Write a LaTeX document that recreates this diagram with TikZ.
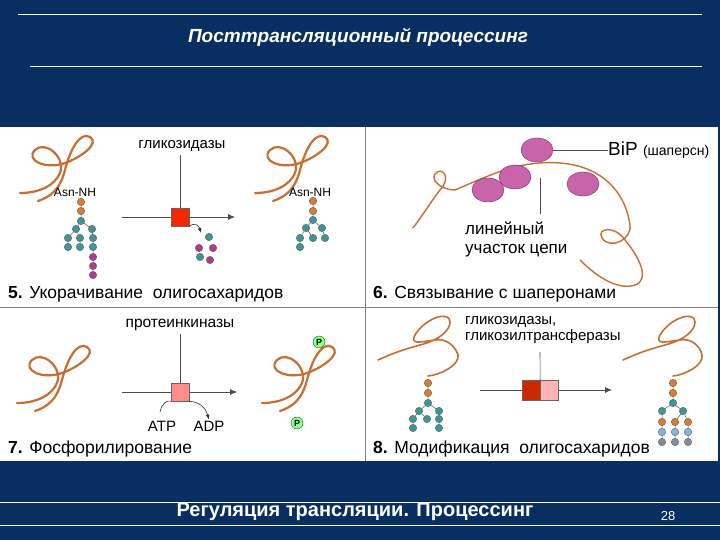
\documentclass[tikz,border=0pt]{standalone}
\usepackage{fontspec}
\setmainfont{Liberation Sans}
\usetikzlibrary{arrows.meta,shapes.geometric}
\definecolor{navy}{RGB}{8,46,98}
\definecolor{rope}{RGB}{200,110,50}
\definecolor{teal1}{RGB}{60,150,150}
\definecolor{mag}{RGB}{170,60,140}
\definecolor{org}{RGB}{215,125,50}
\definecolor{lblue}{RGB}{130,180,220}
\definecolor{gry}{RGB}{130,140,150}
\definecolor{bip}{RGB}{200,100,170}
\tikzset{
 chain/.style={draw=rope,line width=2.2pt,line cap=round},
 link/.style={draw=gray!70!black,line width=0.5pt},
 sug/.style={circle,draw=black!60,line width=0.4pt,inner sep=0pt,minimum size=7.5pt},
 lbl/.style={font=\fontsize{12}{13}\selectfont,inner sep=1pt},
 ttl/.style={font=\fontsize{17.5}{19}\selectfont,anchor=west,inner sep=0pt},
 thin/.style={draw=black!70,line width=0.6pt},
 arr/.style={draw=black!70,line width=0.8pt,-{Latex[length=7pt,width=6pt]}},
 bipe/.style={ellipse,draw=mag!70!black,fill=bip,minimum width=32pt,minimum height=24pt,inner sep=0pt},
 phos/.style={circle,draw=green!40!black,fill=green!45!white,inner sep=0pt,minimum size=12pt,font=\fontsize{9}{9}\selectfont\bfseries},
 coil/.pic={\draw[chain] (0,58) .. controls (20,58) and (35,50) .. (40,38) .. controls (46,22) and (25,5) .. (15,15) .. controls (5,25) and (25,35) .. (45,28) .. controls (62,22) and (80,8) .. (70,2) .. controls (60,-4) and (50,15) .. (45,35) .. controls (40,55) and (30,62) .. (18,66);}
}
\begin{document}
\begin{tikzpicture}[x=1pt,y=-1pt]
\fill[navy] (0,0) rectangle (720,540);
\useasboundingbox (0,0) rectangle (720,540);
\draw[white,line width=0.8pt] (18,14) -- (702,14);
\draw[white,line width=0.8pt] (30,66) -- (702,66);
\node[text=white,font=\bfseries\itshape\fontsize{19}{21}\selectfont] (title) at (358,37) {Посттрансляционный процессинг};
\fill[white] (0,127) rectangle (718,461);
\draw[gray,line width=1pt] (0,307) -- (718,307);
\draw[gray,line width=1pt] (365,127) -- (365,461);
\draw[white,line width=0.8pt] (0,502) -- (720,502);
\draw[white,line width=0.8pt] (0,525) -- (720,525);
\node[text=white,font=\bfseries\fontsize{20}{22}\selectfont] (foot) at (355,512) {Регуляция трансляции. Процессинг};
\node[text=white,font=\fontsize{13}{14}\selectfont] (pg) at (668,516) {28};

% ---------- panel 5
\pic at (20,135) {coil};
\pic at (255,135) {coil};
\node[lbl] (asn1) at (75,192) {Asn-NH};
\node[lbl] (asn2) at (310,192) {Asn-NH};
\foreach \n/\x/\y/\c in {a1/81/202/org,a2/81/211/org,a3/81/221/teal1,a4/76/229/teal1,a5/92/229/teal1,a6/68/238/teal1,a7/80/238/teal1,a8/93/238/teal1,a9/68/247/teal1,a10/80/247/teal1,a11/93/247/teal1,a12/93/257/mag,a13/93/266/mag,a14/93/275/mag}
 {\node[sug,fill=\c] (\n) at (\x,\y) {};}
\draw[link] (asn1) -- (a1) -- (a2) -- (a3) -- (a4) -- (a6) -- (a9);
\draw[link] (a4) -- (a7) -- (a10);
\draw[link] (a3) -- (a5) -- (a8) -- (a11) -- (a12) -- (a13) -- (a14);
\foreach \n/\x/\y/\c in {b1/313/201/org,b2/313/211/org,b3/313/220/teal1,b4/306/228/teal1,b5/322/228/teal1,b6/300/238/teal1,b7/313/238/teal1,b8/325/238/teal1,b9/300/247/teal1}
 {\node[sug,fill=\c] (\n) at (\x,\y) {};}
\draw[link] (asn2) -- (b1) -- (b2) -- (b3) -- (b4) -- (b6) -- (b9);
\draw[link] (b4) -- (b7); \draw[link] (b3) -- (b5) -- (b8);
\foreach \n/\x/\y/\c in {c1/209/237/teal1,c2/199/248/mag,c3/213/248/mag,c4/200/257/teal1,c5/210/260/mag}
 {\node[sug,fill=\c] (\n) at (\x,\y) {};}
\coordinate (s5) at (122,217); \coordinate (e5) at (235,217);
\draw[arr] (s5) -- (e5);
\node[lbl,font=\fontsize{15}{16}\selectfont] (g5) at (182,146) {гликозидазы};
\node[draw=black!60,fill=red!65!orange!95!black,minimum size=18pt,inner sep=0pt] (box5) at (180,217) {};
\draw[thin] (180,155) -- (box5.north);
\coordinate (f5) at (201,233);
\draw[draw=black!80,line width=0.6pt,-{Latex[length=5pt]}] (box5.south east) .. controls (195,222) and (199,226) .. (f5);
\node[ttl] (t5) at (8,294) {\textbf{5.} Укорачивание\ \ олигосахаридов};

% ---------- panel 6
\draw[chain,line width=1.4pt] (413,228) .. controls (425,212) and (432,200) .. (440,190) .. controls (450,180) and (445,168) .. (437,172) .. controls (428,178) and (440,190) .. (455,190) .. controls (490,175) and (520,160) .. (560,163) .. controls (600,166) and (625,190) .. (630,225) .. controls (632,240) and (610,250) .. (602,238) .. controls (596,228) and (615,225) .. (625,240) .. controls (640,258) and (650,280) .. (635,285) .. controls (620,290) and (600,280) .. (580,260);
\node[bipe] (e1) at (537,150) {};
\node[bipe] (e2) at (488,190) {};
\node[bipe] (e3) at (515,177) {};
\node[bipe] (e4) at (583,184) {};
\node[anchor=west,inner sep=0pt] (bipl) at (608,150) {\fontsize{19}{20}\selectfont BiP \fontsize{14}{15}\selectfont(шаперсн)};
\draw[thin] (e1.east) -- (bipl.west);
\coordinate (lt) at (540,178);
\node[anchor=north west,align=left,inner sep=0pt,font=\fontsize{17}{19}\selectfont] (lin) at (465,222) {линейный\\участок цепи};
\draw[thin] (lt) -- (540,214);
\node[ttl] (t6) at (373,294) {\textbf{6.} Связывание с шаперонами};

% ---------- panel 7
\pic at (17,345) {coil};
\pic at (262,345) {coil};
\node[phos] (p1) at (319,342) {P};
\node[phos] (p2) at (297,423) {P};
\node[lbl,font=\fontsize{15.5}{16}\selectfont] (g7) at (180,325) {протеинкиназы};
\coordinate (s7) at (122,392); \coordinate (e7) at (237,392);
\draw[arr] (s7) -- (e7);
\node[draw=black!60,fill=red!45!white,minimum size=18pt,inner sep=0pt] (box7) at (180,392) {};
\draw[thin] (180,334) -- (box7.north);
\node[lbl,font=\fontsize{15}{16}\selectfont] (atp) at (162,426) {ATP};
\node[lbl,font=\fontsize{15}{16}\selectfont] (adp) at (209,426) {ADP};
\draw[draw=black!80,line width=0.6pt] (160,412) .. controls (162,403) and (167,400) .. (box7.south west);
\draw[draw=black!80,line width=0.6pt,-{Latex[length=5pt]}] (box7.south east) .. controls (198,402) and (205,406) .. (adp.north);
\node[ttl] (t7) at (8,449) {\textbf{7.} Фосфорилирование};

% ---------- panel 8
\draw[chain,line width=1.6pt] (378,360) .. controls (400,350) and (410,348) .. (420,345) .. controls (440,340) and (450,330) .. (450,322) .. controls (450,310) and (425,318) .. (415,335) .. controls (410,345) and (420,342) .. (435,340) .. controls (445,338) and (455,345) .. (458,355) .. controls (460,365) and (440,375) .. (428,376);
\draw[chain,line width=1.6pt] (623,360) .. controls (645,350) and (655,348) .. (665,345) .. controls (685,340) and (695,330) .. (695,322) .. controls (695,310) and (670,318) .. (660,335) .. controls (655,345) and (665,342) .. (680,340) .. controls (690,338) and (700,345) .. (702,355) .. controls (704,365) and (685,375) .. (673,376);
\node[anchor=north west,align=left,inner sep=0pt,font=\fontsize{15}{16}\selectfont] (g8) at (465,316) {гликозидазы,\\гликозилтрансферазы};
\coordinate (s8) at (480,390); \coordinate (e8) at (612,390);
\draw[arr] (s8) -- (e8);
\node[draw=black!60,fill=red!60!orange!80!black,minimum width=18pt,minimum height=20pt,inner sep=0pt] (bx1) at (531,390) {};
\node[draw=black!60,fill=red!30!white,minimum width=18pt,minimum height=20pt,inner sep=0pt] (bx2) at (549,390) {};
\draw[thin] (540,352) -- (bx1.north east);
\foreach \n/\x/\y/\c in {d1/428/383/org,d2/428/393/org,d3/428/403/teal1,d4/419/411/teal1,d5/439/411/teal1,d6/413/419/teal1,d7/427/419/teal1,d8/439/419/teal1,d9/413/428/teal1,d10/439/428/teal1}
 {\node[sug,fill=\c] (\n) at (\x,\y) {};}
\draw[link] (d1) -- (d2) -- (d3) -- (d4) -- (d6) -- (d9); \draw[link] (d4) -- (d7);
\draw[link] (d3) -- (d5) -- (d8) -- (d10);
\foreach \n/\x/\y/\c in {f1/673/383/org,f2/673/393/org,f3/673/403/teal1,f4/662/411/teal1,f5/683/411/teal1,f6/662/422/org,f7/675/422/org,f8/688/422/org,f9/662/432/lblue,f10/675/432/lblue,f11/688/432/lblue,f12/662/442/gry,f13/675/442/gry,f14/688/442/gry}
 {\node[sug,fill=\c] (\n) at (\x,\y) {};}
\draw[link] (f1) -- (f2) -- (f3) -- (f4) -- (f6) -- (f9) -- (f12);
\draw[link] (f3) -- (f5) -- (f7) -- (f10) -- (f13);
\draw[link] (f5) -- (f8) -- (f11) -- (f14);
\node[ttl] (t8) at (373,449) {\textbf{8.} Модификация\ \ олигосахаридов};
\end{tikzpicture}
\end{document}
